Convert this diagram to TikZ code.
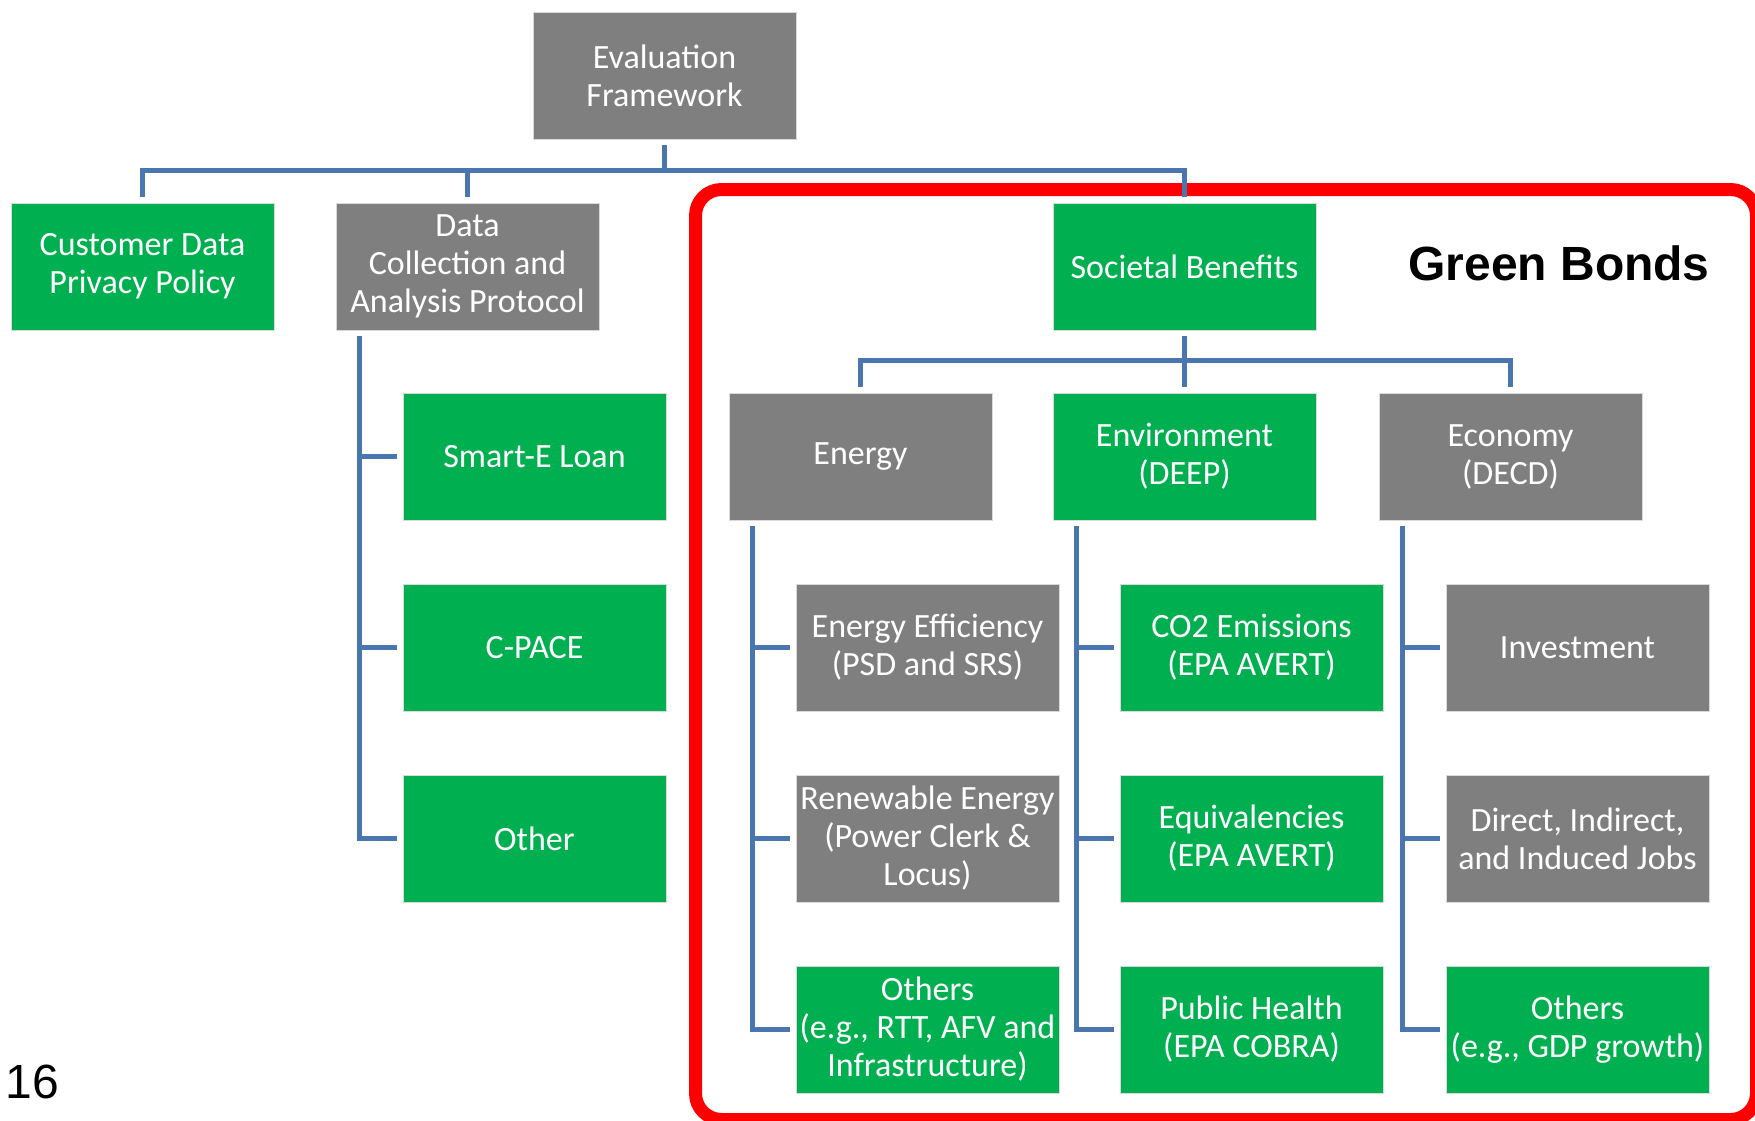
\documentclass[tikz,border=0pt]{standalone}
\usepackage{fontspec}
\setmainfont{Carlito}
\newfontfamily\arialfont{Liberation Sans}
\usepackage{xcolor}
\definecolor{boxgreen}{HTML}{00B050}
\definecolor{boxgrey}{HTML}{7F7F7F}
\definecolor{linkblue}{HTML}{4A76AF}

\begin{document}
\begin{tikzpicture}[x=0.5pt,y=-0.5pt,
  box/.style={draw=white!85!black, line width=0.4pt, text=white, align=center,
    minimum width=131.5pt, minimum height=63.5pt, inner xsep=0pt, inner ysep=2pt,
    font=\fontsize{17}{19}\selectfont},
  greenbox/.style={box, fill=boxgreen},
  greybox/.style={box, fill=boxgrey},
  link/.style={draw=linkblue, line width=2.5pt}]
\useasboundingbox (0,0) rectangle (1755,1120);
%%%GREEN BONDS FRAME
\draw[red, line width=6.5pt, rounded corners=13pt] (695.5,189.5) rectangle (1756.5,1119.5);
\node[font=\arialfont\bfseries\fontsize{24}{28}\selectfont] (bonds) at (1559,263) {Green Bonds};
\node[anchor=base west, inner sep=0pt, font=\arialfont\fontsize{24}{28}\selectfont] (page) at (5,1098) {16};
%%%TOP LEVELS
\node[greybox] (eval) at (664.5,75.5) {Evaluation\\Framework};
\node[greenbox] (privacy) at (142.5,266.5) {Customer Data\\Privacy Policy};
\node[greybox] (protocol) at (467.5,266.5) {Data\\Collection and\\Analysis Protocol};
\node[greenbox] (societal) at (1184.5,266.5) {Societal Benefits};
\node[greybox] (energy) at (860.5,456.5) {Energy};
\node[greenbox] (environment) at (1184.5,456.5) {Environment\\(DEEP)};
\node[greybox] (economy) at (1510.5,456.5) {Economy\\(DECD)};
%%%PROGRAMS
\node[greenbox] (smarte) at (534.5,456.5) {Smart-E Loan};
\node[greenbox] (cpace) at (534.5,647.5) {C-PACE};
\node[greenbox] (other) at (534.5,838.5) {Other};
%%%ENERGY
\node[greybox] (efficiency) at (927.5,647.5) {Energy Efficiency\\(PSD and SRS)};
\node[greybox] (renewable) at (927.5,838.5) {Renewable Energy\\(Power Clerk \&\\Locus)};
\node[greenbox] (energyothers) at (927.5,1029.5) {Others\\(e.g., RTT, AFV and\\Infrastructure)};
%%%ENVIRONMENT
\node[greenbox] (emissions) at (1251.5,647.5) {CO2 Emissions\\(EPA AVERT)};
\node[greenbox] (equivalencies) at (1251.5,838.5) {Equivalencies\\(EPA AVERT)};
\node[greenbox] (health) at (1251.5,1029.5) {Public Health\\(EPA COBRA)};
%%%ECONOMY
\node[greybox] (investment) at (1577.5,647.5) {Investment};
\node[greybox] (jobs) at (1577.5,838.5) {Direct, Indirect,\\and Induced Jobs};
\node[greenbox] (econothers) at (1577.5,1029.5) {Others\\(e.g., GDP growth)};
%%%CONNECTORS
\coordinate (topbus) at (664.5,170);
\coordinate (midbus) at (1184.5,360);
\draw[link] ([yshift=-3pt]eval.south) -- (topbus);
\draw[link] ([yshift=3pt]privacy.north) |- (topbus) -| ([yshift=3pt]societal.north);
\draw[link] ([yshift=3pt]protocol.north) -- (protocol.north |- topbus);
\draw[link] ([yshift=-3pt]societal.south) -- ([yshift=3pt]environment.north);
\draw[link] ([yshift=3pt]energy.north) |- (midbus) -| ([yshift=3pt]economy.north);
%%%SIDE BRANCHES
\coordinate (pspine) at ([xshift=12pt,yshift=-3pt]protocol.south west);
\coordinate (nspine) at ([xshift=12pt,yshift=-3pt]energy.south west);
\coordinate (vspine) at ([xshift=12pt,yshift=-3pt]environment.south west);
\coordinate (cspine) at ([xshift=12pt,yshift=-3pt]economy.south west);
\draw[link] (pspine) |- ([xshift=-3pt]other.west);
\draw[link] (nspine) |- ([xshift=-3pt]energyothers.west);
\draw[link] (vspine) |- ([xshift=-3pt]health.west);
\draw[link] (cspine) |- ([xshift=-3pt]econothers.west);
\foreach \n/\s in {smarte/pspine, cpace/pspine, efficiency/nspine, renewable/nspine,
  emissions/vspine, equivalencies/vspine, investment/cspine, jobs/cspine}
  \draw[link] (\s |- \n.west) -- ([xshift=-3pt]\n.west);
\end{tikzpicture}
\end{document}
